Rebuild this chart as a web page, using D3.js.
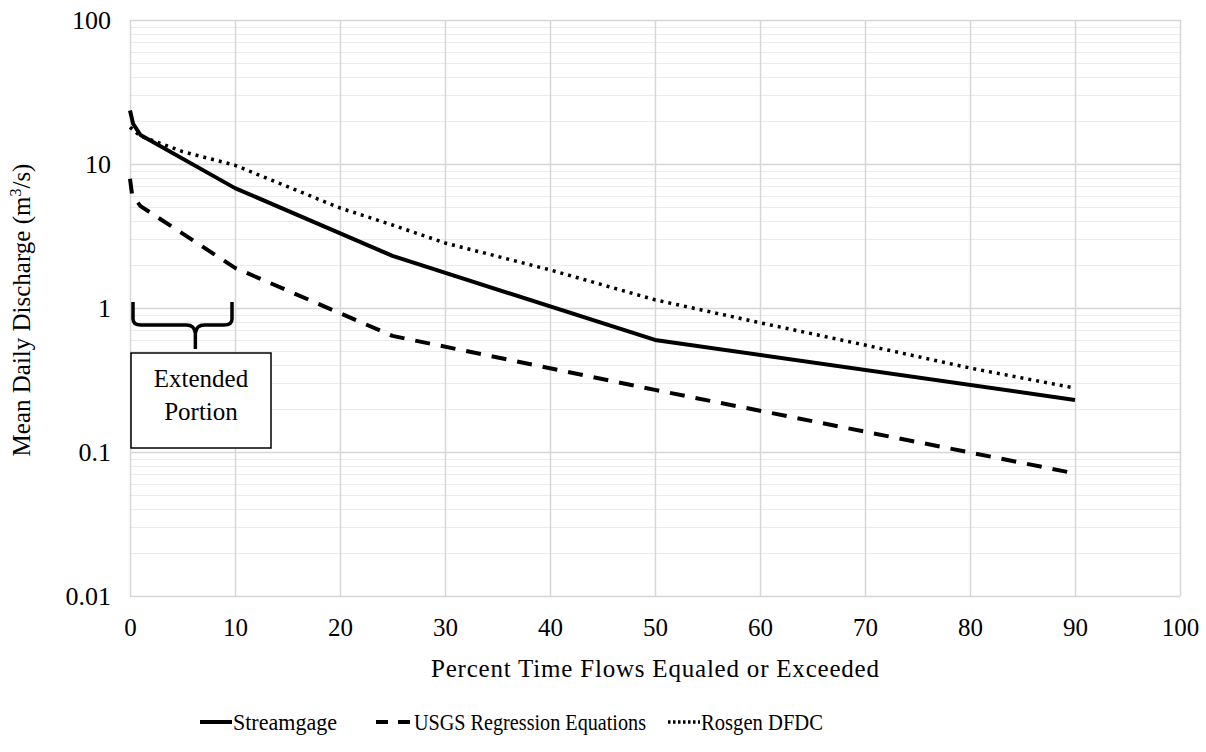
<!DOCTYPE html>
<html>
<head>
<meta charset="utf-8">
<script src="https://cdn.jsdelivr.net/npm/d3@7"></script>
<style>
  body { margin: 0; background: #fff; }
  svg text { font-family: "Liberation Serif", Tinos, "Times New Roman", serif; fill: #000; }
</style>
</head>
<body>
<div id="chart"></div>
<script>
// percent of time flow equaled or exceeded, and discharge (m3/s) per series
var streamPct = [0, 0.3, 1, 10, 25, 50, 90];
var streamQ   = [23.5, 19.0, 15.9, 6.8, 2.3, 0.6, 0.23];

var usgsPct = [0, 0.2, 1, 10, 25, 50, 90];
var usgsQ   = [7.9, 6.1, 5.1, 1.9, 0.64, 0.27, 0.071];

var rosgenPct = [0, 1, 5, 10, 20, 25, 30, 40, 50, 60, 70, 80, 90];
var rosgenQ   = [18, 15.6, 12.2, 9.8, 4.95, 3.77, 2.83, 1.84, 1.14, 0.79, 0.553, 0.383, 0.278];

var seriesNames = ["Streamgage", "USGS Regression Equations", "Rosgen DFDC"];
var xTicks = [0, 10, 20, 30, 40, 50, 60, 70, 80, 90, 100];
var yTicks = [0.01, 0.1, 1, 10, 100];
var yTickLabels = ["0.01", "0.1", "1", "10", "100"];

var W = 1206, H = 752;
var margin = {top: 20, right: 26, bottom: 156, left: 130};
var width = W - margin.left - margin.right,
    height = H - margin.top - margin.bottom;

var svg = d3.select("#chart")
  .append("svg")
  .attr("width", W)
  .attr("height", H);

var g = svg.append("g")
  .attr("transform", "translate(" + margin.left + "," + margin.top + ")");

var x = d3.scaleLinear().domain([0, 100]).range([0, width]);
var y = d3.scaleLog().domain([0.01, 100]).range([height, 0]);

// minor gridlines (2..9 in each decade)
var minor = y.ticks().filter(function(v) { return yTicks.indexOf(v) < 0; });
g.selectAll(".minor")
  .data(minor)
  .enter()
  .append("line")
    .attr("x1", 0).attr("x2", width)
    .attr("y1", function(d) { return Math.round(y(d)) + 0.5; })
    .attr("y2", function(d) { return Math.round(y(d)) + 0.5; })
    .attr("stroke", "#ebebeb")
    .attr("stroke-width", 1);

// major gridlines
g.selectAll(".hmajor")
  .data(yTicks)
  .enter()
  .append("line")
    .attr("x1", 0).attr("x2", width)
    .attr("y1", function(d) { return Math.round(y(d)) + 0.5; })
    .attr("y2", function(d) { return Math.round(y(d)) + 0.5; })
    .attr("stroke", "#d6d6d6")
    .attr("stroke-width", 1.5);

g.selectAll(".vmajor")
  .data(xTicks)
  .enter()
  .append("line")
    .attr("y1", 0).attr("y2", height)
    .attr("x1", function(d) { return Math.round(x(d)) + 0.5; })
    .attr("x2", function(d) { return Math.round(x(d)) + 0.5; })
    .attr("stroke", "#d6d6d6")
    .attr("stroke-width", 1.5);

// axes (labels only)
var xAxis = g.append("g")
  .attr("transform", "translate(0," + height + ")")
  .call(d3.axisBottom(x).tickValues(xTicks).tickSize(0).tickPadding(22));
xAxis.select(".domain").remove();
xAxis.attr("font-family", null).attr("font-size", null);
xAxis.selectAll("text")
  .style("font-size", "25px")
  .attr("fill", "#000");

var yAxis = g.append("g")
  .call(d3.axisLeft(y).tickValues(yTicks)
    .tickFormat(function(d, i) { return yTickLabels[i]; })
    .tickSize(0).tickPadding(19));
yAxis.select(".domain").remove();
yAxis.attr("font-family", null).attr("font-size", null);
yAxis.selectAll("text")
  .style("font-size", "26px")
  .attr("fill", "#000");

// axis titles
svg.append("text")
  .attr("x", margin.left + width / 2)
  .attr("y", 677)
  .attr("text-anchor", "middle")
  .style("font-size", "25px")
  .attr("textLength", 448)
  .attr("lengthAdjust", "spacing")
  .text("Percent Time Flows Equaled or Exceeded");

var yTitle = svg.append("text")
  .attr("transform", "translate(30,310) rotate(-90)")
  .attr("text-anchor", "middle")
  .style("font-size", "25px");
yTitle.append("tspan").text("Mean Daily Discharge (m");
yTitle.append("tspan").attr("dy", -9).style("font-size", "16px").text("3");
yTitle.append("tspan").attr("dy", 9).text("/s)");

// lines
var styles = [
  {dash: null, width: 4},
  {dash: "15,11", width: 4},
  {dash: "3,5", width: 3.5}
];
var seriesData = [
  d3.zip(streamPct, streamQ),
  d3.zip(usgsPct, usgsQ),
  d3.zip(rosgenPct, rosgenQ)
];

var line = d3.line()
  .x(function(d) { return x(d[0]); })
  .y(function(d) { return y(d[1]); })
  .curve(d3.curveLinear);

g.selectAll(".series")
  .data(seriesData)
  .enter()
  .append("path")
    .attr("d", line)
    .attr("fill", "none")
    .attr("stroke", "#000")
    .attr("stroke-width", function(d, i) { return styles[i].width; })
    .attr("stroke-linejoin", "round")
    .attr("stroke-dasharray", function(d, i) { return styles[i].dash; });

// "Extended Portion" brace and box
var bx0 = x(0) + 3, bx1 = x(10) - 3, bcx = bx0 + 0.63 * (bx1 - bx0);
var bTop = 282, bMid = 305, bTip = 329;
var brace = "M" + bx0 + "," + bTop + " L" + bx0 + "," + (bMid - 6) +
  " Q" + bx0 + "," + bMid + " " + (bx0 + 8) + "," + bMid +
  " L" + (bcx - 9) + "," + bMid +
  " Q" + (bcx - 1) + "," + bMid + " " + bcx + "," + (bMid + 8) +
  " L" + bcx + "," + bTip +
  " M" + bx1 + "," + bTop + " L" + bx1 + "," + (bMid - 6) +
  " Q" + bx1 + "," + bMid + " " + (bx1 - 8) + "," + bMid +
  " L" + (bcx + 9) + "," + bMid +
  " Q" + (bcx + 1) + "," + bMid + " " + bcx + "," + (bMid + 8);
g.append("path")
  .attr("d", brace)
  .attr("fill", "none")
  .attr("stroke", "#000")
  .attr("stroke-width", 3.5);

g.append("rect")
  .attr("x", x(0) + 1)
  .attr("y", 333)
  .attr("width", 140)
  .attr("height", 95)
  .attr("fill", "#fff")
  .attr("stroke", "#000")
  .attr("stroke-width", 1.5);

g.append("text")
  .attr("x", x(0) + 71)
  .attr("y", 367)
  .attr("text-anchor", "middle")
  .style("font-size", "25px")
  .text("Extended");
g.append("text")
  .attr("x", x(0) + 71)
  .attr("y", 400)
  .attr("text-anchor", "middle")
  .style("font-size", "25px")
  .text("Portion");

// legend
var legendX = [200, 376, 668];
var legendTextLen = [104, 232, 122];
var legend = svg.selectAll(".legend")
  .data(seriesNames)
  .enter()
  .append("g")
    .attr("transform", function(d, i) { return "translate(" + legendX[i] + ",722)"; });

legend.append("line")
  .attr("x1", 0).attr("x2", function(d, i) { return i == 1 ? 34 : 32; })
  .attr("y1", 0).attr("y2", 0)
  .attr("stroke", "#000")
  .attr("stroke-width", function(d, i) { return styles[i].width; })
  .attr("stroke-dasharray", function(d, i) { return i == 1 ? "12,10" : (i == 2 ? "2.5,2.5" : null); });

legend.append("text")
  .attr("x", function(d, i) { return i == 1 ? 38 : 33; })
  .attr("y", 8)
  .style("font-size", "23px")
  .attr("textLength", function(d, i) { return legendTextLen[i]; })
  .attr("lengthAdjust", "spacingAndGlyphs")
  .text(function(d) { return d; });
</script>
</body>
</html>
